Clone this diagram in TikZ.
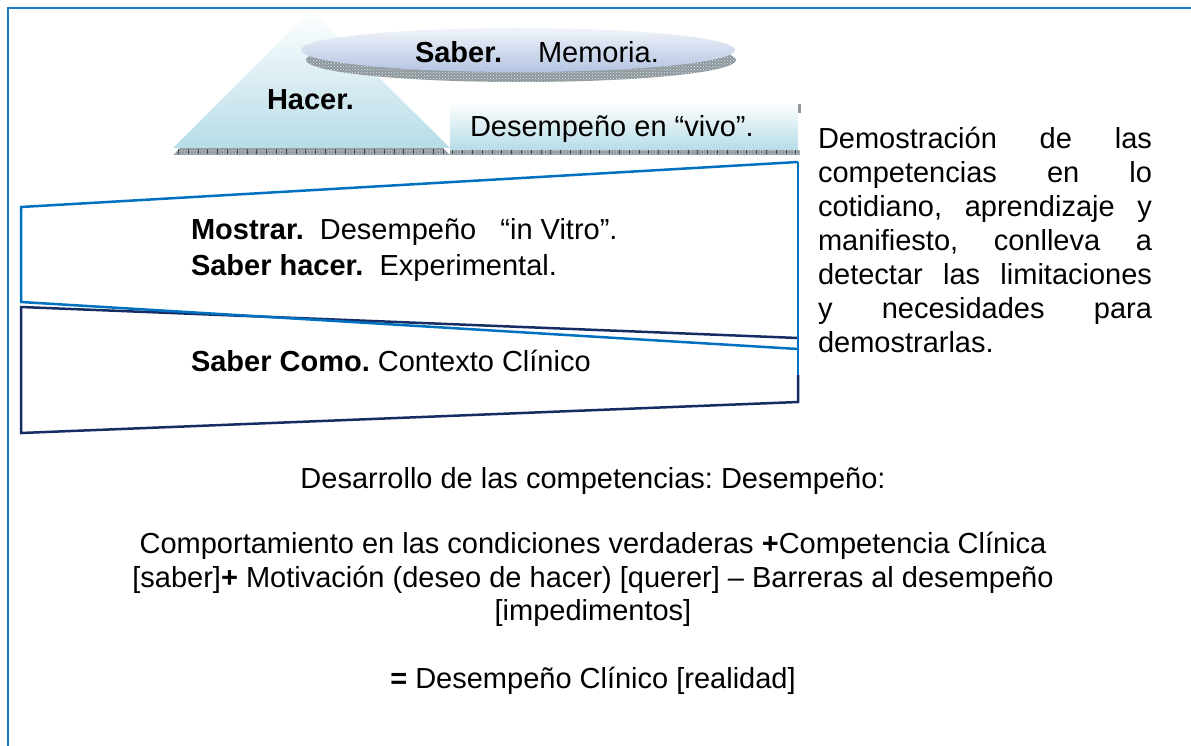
\documentclass[tikz,border=0pt]{standalone}
\usepackage{fontspec}
\setmainfont{Liberation Sans}
\usetikzlibrary{patterns}
\definecolor{frameblue}{RGB}{30,120,200}
\definecolor{quadblue}{RGB}{0,112,192}
\definecolor{navyline}{RGB}{22,45,100}
\definecolor{tealight}{RGB}{182,220,231}
\definecolor{lav}{RGB}{180,196,226}
\definecolor{shadowgray}{RGB}{140,152,158}
\begin{document}
\frenchspacing
\begin{tikzpicture}[x=1pt,y=-1pt,
  txt/.style={inner sep=0pt, outer sep=0pt, font=\fontsize{29}{33.5}\selectfont},
  shad/.style={fill=shadowgray},
  shadpat/.style={pattern=crosshatch dots, pattern color=white!80!gray},
  ticks/.style={draw=gray!55!black, line width=5pt, dash pattern=on 0.8pt off 9pt},
  lt/.style={txt, anchor=base west},
  ct/.style={txt, anchor=base},
]
\useasboundingbox (0,0) rectangle (1191,746);
\fill[white] (0,0) rectangle (1191,746);

% outer frame
\draw[frameblue, line width=2] (1191,8) -- (8,8) -- (8,746);

% shadows of the top shapes
\fill[shad] (173,155) -- (311,17) -- (450,155) -- cycle;
\fill[shad] (450,106) rectangle (800,155);
\fill[shadpat] (173,155) -- (311,17) -- (450,155) -- cycle;
\fill[shadpat] (450,106) rectangle (800,155);
\draw[ticks] (178,152) -- (800,152);

% triangle and rectangle
\shade[top color=white, bottom color=tealight] (173,148) -- (311,10) -- (450,148) -- cycle;
\shade[top color=white, bottom color=tealight] (450,102) rectangle (798,150);
\fill[white] (798,113) rectangle (802,150);
\fill[shadowgray] (798,104) rectangle (801,113);

% ellipse with its shadow
\fill[shad] (521,60) ellipse [x radius=215, y radius=22];
\fill[shadpat] (521,60) ellipse [x radius=215, y radius=22];
\shade[top color=white!80!lav, bottom color=lav] (518,50) ellipse [x radius=217, y radius=22];

% quadrilaterals
\draw[navyline, line width=2.5, line join=miter] (798,375) -- (798,402) -- (21,433) -- (21,307) -- (798,338);
\draw[quadblue, line width=2.5, line join=miter] (798,349) -- (21,302) -- (21,207) -- (798,162);
\draw[quadblue, line width=1.3] (798,162) -- (798,375);

% texts of the top shapes
\node[lt] (saber) at (415,63) {\textbf{Saber.}};
\node[lt] (memoria) at (538,63) {Memoria.};
\node[lt] (hacer) at (267,110) {\textbf{Hacer.}};
\node[lt] (vivo) at (470,137) {Desempeño en “vivo”.};
\node[lt] (mostrar) at (191,240) {\textbf{Mostrar.}\ \ Desempeño\ \ \ “in Vitro”.};
\node[lt] (sabhacer) at (191,275) {\textbf{Saber hacer.}\ \ Experimental.};
\node[lt] (sabcomo) at (191,371) {\textbf{Saber Como.} Contexto Clínico};

% right text
\node[lt] (demo1) at (818,149) {\makebox[334pt][s]{Demostración de las}};
\node[lt] (demo2) at (818,183) {\makebox[334pt][s]{competencias en lo}};
\node[lt] (demo3) at (818,216) {\makebox[334pt][s]{cotidiano, aprendizaje y}};
\node[lt] (demo4) at (818,250) {\makebox[334pt][s]{manifiesto, conlleva a}};
\node[lt] (demo5) at (818,284) {\makebox[334pt][s]{detectar las limitaciones}};
\node[lt] (demo6) at (818,318) {\makebox[334pt][s]{y necesidades para}};
\node[lt] (demo7) at (818,352) {demostrarlas.};

% bottom text
\node[ct] (des) at (593,488) {Desarrollo de las competencias: Desempeño:};
\node[ct] (comp1) at (593,553) {Comportamiento en las condiciones verdaderas \textbf{+}Competencia Clínica};
\node[ct] (comp2) at (593,587) {[saber]\textbf{+} Motivación (deseo de hacer) [querer] – Barreras al desempeño};
\node[ct] (comp3) at (593,620) {[impedimentos]};
\node[ct] (res) at (593,688) {\textbf{=} Desempeño Clínico [realidad]};
\end{tikzpicture}
\end{document}
